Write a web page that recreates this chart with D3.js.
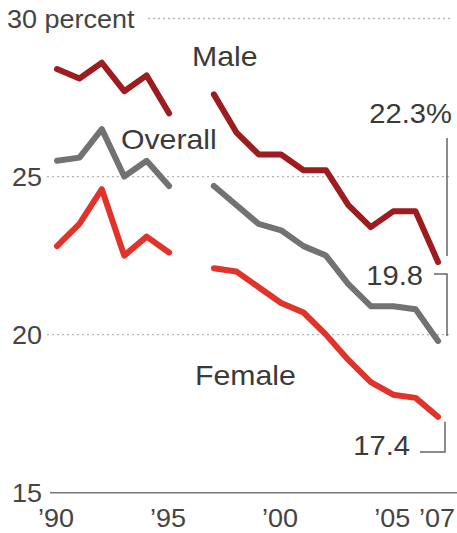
<!DOCTYPE html>
<html>
<head>
<meta charset="utf-8">
<script src="https://cdn.jsdelivr.net/npm/d3@7"></script>
<style>
  body { margin: 0; background: #fff; }
  svg text { font-family: "Liberation Sans", Arial, Helvetica, sans-serif; }
</style>
</head>
<body>
<svg id="chart" width="457" height="533"></svg>
<script>
// adult smoking rate, percent (no survey value for 1996)
var years   = [1990,1991,1992,1993,1994,1995,1996,1997,1998,1999,2000,2001,2002,2003,2004,2005,2006,2007];
var male    = [28.4,28.1,28.6,27.7,28.2,27.0,null,27.6,26.4,25.7,25.7,25.2,25.2,24.1,23.4,23.9,23.9,22.3];
var overall = [25.5,25.6,26.5,25.0,25.5,24.7,null,24.7,24.1,23.5,23.3,22.8,22.5,21.6,20.9,20.9,20.8,19.8];
var female  = [22.8,23.5,24.6,22.5,23.1,22.6,null,22.1,22.0,21.5,21.0,20.7,20.0,19.2,18.5,18.1,18.0,17.4];
var yTicks  = [15, 20, 25, 30];
var xTicks  = [1990, 1995, 2000, 2005, 2007];

var svg = d3.select("#chart");
var x = d3.scaleLinear().domain([1990, 2007]).range([57, 438]);
var y = d3.scaleLinear().domain([15, 30]).range([492.7, 18.5]);

// text drawn slightly wide, like the original
function label(g, str, px, py, size, anchor, color){
  return g.append("text")
    .attr("transform", "translate(" + px + "," + py + ") scale(1.08,1)")
    .attr("text-anchor", anchor)
    .attr("font-size", size)
    .attr("fill", color)
    .text(str);
}

// grid
var grid = svg.append("g");
yTicks.forEach(function(t){
  if (t == 15) {
    grid.append("line")
      .attr("x1", 50).attr("x2", 457)
      .attr("y1", y(t)).attr("y2", y(t))
      .attr("stroke", "#777").attr("stroke-width", 1.6);
  } else {
    grid.append("line")
      .attr("x1", t == 30 ? 148 : 47).attr("x2", 452)
      .attr("y1", y(t)).attr("y2", y(t))
      .attr("stroke", "#b5b5b5").attr("stroke-width", 1.3)
      .attr("stroke-dasharray", "2,3");
  }
  if (t == 30) label(grid, t + " percent", 7, y(t) + 9, 25, "start", "#444");
  else label(grid, t, 42, y(t) + 9, 25, "end", "#444");
});

xTicks.forEach(function(t){
  label(grid, "\u2019" + String(t).slice(2), x(t) - 1, 527, 25, "middle", "#444");
});

// lines
var series = [
  {name: "Male",    values: male,    color: "#9d1c1f"},
  {name: "Overall", values: overall, color: "#727272"},
  {name: "Female",  values: female,  color: "#e2332a"}
];

var line = d3.line()
  .defined(function(d){ return d[1] != null; })
  .x(function(d){ return x(d[0]); })
  .y(function(d){ return y(d[1]); });

svg.append("g").selectAll("path")
  .data(series)
  .enter().append("path")
  .attr("d", function(s){ return line(years.map(function(yr, i){ return [yr, s.values[i]]; })); })
  .attr("fill", "none")
  .attr("stroke", function(s){ return s.color; })
  .attr("stroke-width", 6)
  .attr("stroke-linejoin", "round")
  .attr("stroke-linecap", "round");

// series names
var names = svg.append("g");
label(names, "Male", 192, 66, 28, "start", "#3a3a3a");
label(names, "Overall", 121, 149, 28, "start", "#3a3a3a");
label(names, "Female", 195, 385, 28, "start", "#3a3a3a");

// end values with leader lines
var last = years.length - 1;
var ann = svg.append("g");
var ex = x(years[last]);
var lead = "#666";

label(ann, male[last].toFixed(1) + "%", 452, 123, 27, "end", "#3a3a3a");
ann.append("path")
  .attr("d", "M447,138 V" + (y(male[last]) - 6))
  .attr("fill", "none").attr("stroke", lead).attr("stroke-width", 1.5);

label(ann, overall[last].toFixed(1), 423, 285, 27, "end", "#3a3a3a");
ann.append("path")
  .attr("d", "M434,274 H447 V" + (y(overall[last]) - 5))
  .attr("fill", "none").attr("stroke", lead).attr("stroke-width", 1.5);

label(ann, female[last].toFixed(1), 410, 455, 27, "end", "#3a3a3a");
ann.append("path")
  .attr("d", "M" + (ex + 7) + "," + (y(female[last]) + 5) + " V452 H420")
  .attr("fill", "none").attr("stroke", lead).attr("stroke-width", 1.5);
</script>
</body>
</html>
